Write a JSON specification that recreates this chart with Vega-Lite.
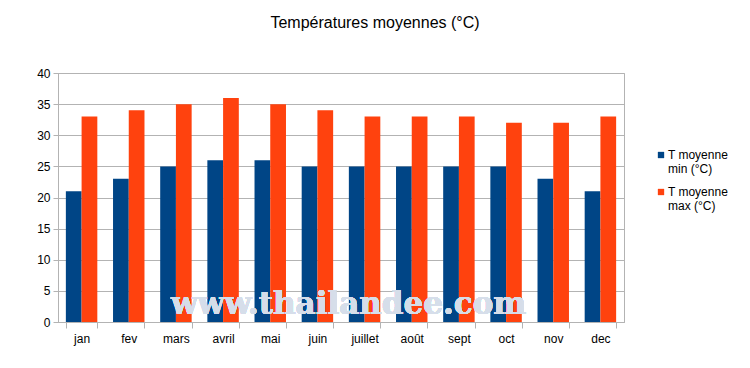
{
  "$schema": "https://vega.github.io/schema/vega-lite/v6.json",
  "width": 566,
  "height": 249,
  "autosize": {"type": "none"},
  "padding": {"left": 58, "top": 73, "right": 126, "bottom": 46},
  "background": "white",
  "title": {
    "text": "Températures moyennes (°C)",
    "font": "Liberation Sans",
    "fontSize": 16,
    "fontWeight": "normal",
    "color": "#000000",
    "anchor": "middle",
    "frame": "group",
    "dx": 34,
    "offset": 36
  },
  "config": {
    "view": {"stroke": "#b3b3b3"},
    "axis": {
      "domainColor": "#b3b3b3",
      "tickColor": "#b3b3b3",
      "gridColor": "#b3b3b3",
      "labelFont": "Liberation Sans",
      "labelFontSize": 12,
      "labelColor": "#000000"
    }
  },
  "data": {
    "values": [
      {"mois": "jan", "serie": "T moyenne min (°C)", "t": 21},
      {"mois": "fev", "serie": "T moyenne min (°C)", "t": 23},
      {"mois": "mars", "serie": "T moyenne min (°C)", "t": 25},
      {"mois": "avril", "serie": "T moyenne min (°C)", "t": 26},
      {"mois": "mai", "serie": "T moyenne min (°C)", "t": 26},
      {"mois": "juin", "serie": "T moyenne min (°C)", "t": 25},
      {"mois": "juillet", "serie": "T moyenne min (°C)", "t": 25},
      {"mois": "août", "serie": "T moyenne min (°C)", "t": 25},
      {"mois": "sept", "serie": "T moyenne min (°C)", "t": 25},
      {"mois": "oct", "serie": "T moyenne min (°C)", "t": 25},
      {"mois": "nov", "serie": "T moyenne min (°C)", "t": 23},
      {"mois": "dec", "serie": "T moyenne min (°C)", "t": 21},
      {"mois": "jan", "serie": "T moyenne max (°C)", "t": 33},
      {"mois": "fev", "serie": "T moyenne max (°C)", "t": 34},
      {"mois": "mars", "serie": "T moyenne max (°C)", "t": 35},
      {"mois": "avril", "serie": "T moyenne max (°C)", "t": 36},
      {"mois": "mai", "serie": "T moyenne max (°C)", "t": 35},
      {"mois": "juin", "serie": "T moyenne max (°C)", "t": 34},
      {"mois": "juillet", "serie": "T moyenne max (°C)", "t": 33},
      {"mois": "août", "serie": "T moyenne max (°C)", "t": 33},
      {"mois": "sept", "serie": "T moyenne max (°C)", "t": 33},
      {"mois": "oct", "serie": "T moyenne max (°C)", "t": 32},
      {"mois": "nov", "serie": "T moyenne max (°C)", "t": 32},
      {"mois": "dec", "serie": "T moyenne max (°C)", "t": 33}
    ]
  },
  "layer": [
    {
      "mark": {"type": "bar"},
      "encoding": {
        "x": {
          "field": "mois",
          "type": "nominal",
          "scale": {
            "domain": ["jan", "fev", "mars", "avril", "mai", "juin", "juillet", "août", "sept", "oct", "nov", "dec"],
            "paddingInner": 0.333,
            "paddingOuter": 0.1667
          },
          "axis": {
            "title": null,
            "labelAngle": 0,
            "grid": false,
            "tickBand": "extent",
            "tickSize": 6,
            "labelPadding": 5
          }
        },
        "xOffset": {
          "field": "serie",
          "type": "nominal",
          "scale": {"domain": ["T moyenne min (°C)", "T moyenne max (°C)"]}
        },
        "y": {
          "field": "t",
          "type": "quantitative",
          "scale": {"domain": [0, 40], "nice": false},
          "axis": {
            "title": null,
            "values": [0, 5, 10, 15, 20, 25, 30, 35, 40],
            "labelOverlap": false,
            "grid": true,
            "tickSize": 5,
            "labelPadding": 3
          }
        },
        "color": {
          "field": "serie",
          "type": "nominal",
          "scale": {
            "domain": ["T moyenne min (°C)", "T moyenne max (°C)"],
            "range": ["#004586", "#ff420e"]
          },
          "legend": {
            "title": null,
            "orient": "none",
            "legendX": 597,
            "legendY": 76,
            "symbolType": "square",
            "symbolSize": 40,
            "symbolStrokeWidth": 0,
            "labelFont": "Liberation Sans",
            "labelFontSize": 12,
            "labelColor": "#000000",
            "labelBaseline": "alphabetic",
            "labelExpr": "[slice(datum.label, 0, 9), slice(datum.label, 10)]",
            "labelOffset": 1,
            "rowPadding": 11,
            "encode": {"labels": {"update": {"dy": {"value": 4}}}}
          }
        }
      }
    },
    {
      "mark": {
        "type": "text",
        "font": "DejaVu Serif",
        "fontWeight": "bold",
        "fontSize": 31,
        "color": "#d6deea",
        "opacity": 0.55,
        "baseline": "alphabetic",
        "align": "center",
        "dx": -16
      },
      "encoding": {
        "x": {"datum": "juillet", "type": "nominal"},
        "y": {
          "datum": 1.3,
          "type": "quantitative",
          "axis": {
            "title": null,
            "values": [0, 5, 10, 15, 20, 25, 30, 35, 40],
            "labelOverlap": false,
            "grid": true,
            "tickSize": 5,
            "labelPadding": 3
          }
        },
        "text": {"value": "www.thailandee.com"}
      }
    }
  ]
}
